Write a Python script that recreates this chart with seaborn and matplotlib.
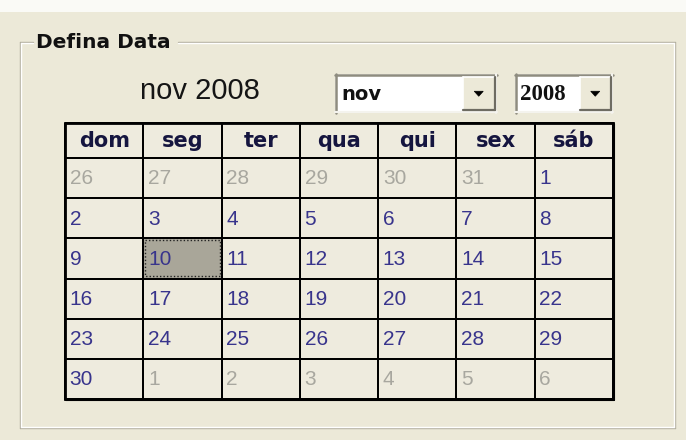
import numpy as np
import pandas as pd
import seaborn as sns
import matplotlib.pyplot as plt
from matplotlib.colors import ListedColormap
from matplotlib.patches import Rectangle, Polygon

# ---------------- data ----------------
title_text = "nov 2008"
group_title = "Defina Data"
month_choice = "nov"
year_choice = "2008"
weekday_labels = ["dom", "seg", "ter", "qua", "qui", "sex", "sáb"]
day_numbers = [
    [26, 27, 28, 29, 30, 31, 1],
    [2, 3, 4, 5, 6, 7, 8],
    [9, 10, 11, 12, 13, 14, 15],
    [16, 17, 18, 19, 20, 21, 22],
    [23, 24, 25, 26, 27, 28, 29],
    [30, 1, 2, 3, 4, 5, 6],
]
# 0 = current month, 1 = other month
other_month = [
    [1, 1, 1, 1, 1, 1, 0],
    [0, 0, 0, 0, 0, 0, 0],
    [0, 0, 0, 0, 0, 0, 0],
    [0, 0, 0, 0, 0, 0, 0],
    [0, 0, 0, 0, 0, 0, 0],
    [0, 1, 1, 1, 1, 1, 1],
]
selected_day = 10

# ---------------- style ----------------
W, H = 686, 440
BG = "#ECE9D8"
CELL = "#EEEBDE"
SEL = "#A9A699"
DAY_COL = "#38348C"
OTHER_COL = "#A8A79F"
HEAD_COL = "#15153F"

sns.set_theme(style="white")
plt.rcParams["font.family"] = ["Liberation Sans", "DejaVu Sans"]

fig = plt.figure(figsize=(W / 100, H / 100), dpi=100)
fig.patch.set_facecolor(BG)


def fig_rect(x0, y0, x1, y1):
    return [x0 / W, 1 - y1 / H, (x1 - x0) / W, (y1 - y0) / H]


bg = fig.add_axes([0, 0, 1, 1])
bg.set_xlim(0, W)
bg.set_ylim(H, 0)
bg.axis("off")
bg.set_facecolor(BG)

# white strip at top
bg.add_patch(Rectangle((0, 0), W, 12, facecolor="#FAFAF6", edgecolor="none"))

# group box (etched)
gx0, gy0, gx1, gy1 = 20, 42, 675, 428
for off, col in [(0, "#B2AF9F"), (1.3, "#FFFFFF")]:
    bg.plot([gx0 + off, gx0 + off], [gy0 + off, gy1 - off], color=col, lw=1.0)
    bg.plot([gx0 + off, 33], [gy0 + off, gy0 + off], color=col, lw=1.0)
    bg.plot([178, gx1 - off], [gy0 + off, gy0 + off], color=col, lw=1.0)
    bg.plot([gx1 - off, gx1 - off], [gy0 + off, gy1 - off], color=col, lw=1.0)
    bg.plot([gx0 + off, gx1 - off], [gy1 - off, gy1 - off], color=col, lw=1.0)
bg.text(36, 43, group_title, ha="left", va="center", fontsize=14.5,
        fontweight="bold", family=["DejaVu Sans"], color="#111111")

# title
bg.text(200, 91, title_text, ha="center", va="center", fontsize=21,
        color="#151515")


def combo(x0, y0, x1, y1, bx0, text, tx, fam, fs):
    bg.add_patch(Rectangle((x0, y0), x1 - x0, y1 - y0, facecolor="white",
                           edgecolor="none"))
    bg.plot([x0, x1], [y0 + 1, y0 + 1], color="#8E8C7F", lw=1.8)
    bg.plot([x0 + 1, x0 + 1], [y0, y1], color="#8E8C7F", lw=1.8)
    bg.plot([x0, x1], [y1 - 1, y1 - 1], color="#F4F3EE", lw=1.5)
    bg.plot([x1 - 1, x1 - 1], [y0, y1], color="#F4F3EE", lw=1.5)
    # button
    bx1 = x1 - 2.5
    by0, by1 = y0 + 3, y1 - 2.5
    bg.add_patch(Rectangle((bx0, by0), bx1 - bx0, by1 - by0, facecolor=BG,
                           edgecolor="none"))
    bg.plot([bx0, bx1], [by0, by0], color="white", lw=1.2)
    bg.plot([bx0, bx0], [by0, by1], color="white", lw=1.2)
    bg.plot([bx0, bx1], [by1, by1], color="#6E6C62", lw=1.6)
    bg.plot([bx1, bx1], [by0, by1], color="#6E6C62", lw=1.6)
    cx, cy = (bx0 + bx1) / 2, (by0 + by1) / 2
    bg.add_patch(Polygon([[cx - 4.5, cy - 2.5], [cx + 4.5, cy - 2.5],
                          [cx, cy + 2.5]], closed=True, facecolor="black",
                         edgecolor="black", lw=0.5))
    bg.text(tx, cy + 1, text, ha="left", va="center", fontsize=fs,
            fontweight="bold", family=fam, color="#111111")


combo(335, 74, 497, 113, 463, month_choice, 341, ["DejaVu Sans"], 14)
combo(515, 74, 613, 113, 580, year_choice, 520, ["Liberation Serif"], 16.5)

# ---------------- grid ----------------
GX0, GX1 = 65, 613
GY0, GYH, GY1 = 123, 158, 399
LW = 1.4

hdr_ax = fig.add_axes(fig_rect(GX0, GY0, GX1, GYH))
hdr = pd.DataFrame([[0] * 7], columns=weekday_labels)
sns.heatmap(hdr, ax=hdr_ax, cmap=ListedColormap([CELL]), cbar=False,
            linewidths=LW, linecolor="black", xticklabels=False,
            yticklabels=False)
hdr_ax.collections[0].set_clip_on(False)
for j, lab in enumerate(weekday_labels):
    hdr_ax.text(j + 0.5, 0.52, lab, ha="center", va="center", fontsize=15,
                fontweight="bold", family=["DejaVu Sans"], color=HEAD_COL)

day_ax = fig.add_axes(fig_rect(GX0, GYH, GX1, GY1))
state = np.array(other_month, dtype=float)
nums = np.array(day_numbers)
for i in range(nums.shape[0]):
    for j in range(nums.shape[1]):
        if other_month[i][j] == 0 and nums[i, j] == selected_day:
            state[i, j] = 2
day_df = pd.DataFrame(state, columns=weekday_labels)
sns.heatmap(day_df, ax=day_ax, cmap=ListedColormap([CELL, CELL, SEL]),
            vmin=0, vmax=2, cbar=False, linewidths=LW, linecolor="black",
            xticklabels=False, yticklabels=False)
day_ax.collections[0].set_clip_on(False)

for i in range(nums.shape[0]):
    for j in range(nums.shape[1]):
        col = OTHER_COL if other_month[i][j] else DAY_COL
        day_ax.text(j + 0.06, i + 0.52, str(nums[i, j]), ha="left",
                    va="center", fontsize=15, color=col)
        if state[i, j] == 2:
            day_ax.add_patch(Rectangle((j + 0.025, i + 0.05), 0.95, 0.9,
                                       fill=False, edgecolor="#222222",
                                       lw=1.0, ls=(0, (1, 1.5))))

# outer border
bg_top = fig.add_axes([0, 0, 1, 1])
bg_top.set_xlim(0, W)
bg_top.set_ylim(H, 0)
bg_top.axis("off")
bg_top.add_patch(Rectangle((GX0, GY0), GX1 - GX0, GY1 - GY0, fill=False,
                           edgecolor="black", lw=2.0))
bg_top.plot([GX0 + 1, GX1 + 1.3], [GY1 + 1.3, GY1 + 1.3], color="black",
            lw=1.5)
bg_top.plot([GX1 + 1.3, GX1 + 1.3], [GY0 + 1, GY1 + 1.3], color="black",
            lw=1.5)

fig.savefig("out.png", dpi=100, facecolor=BG)
